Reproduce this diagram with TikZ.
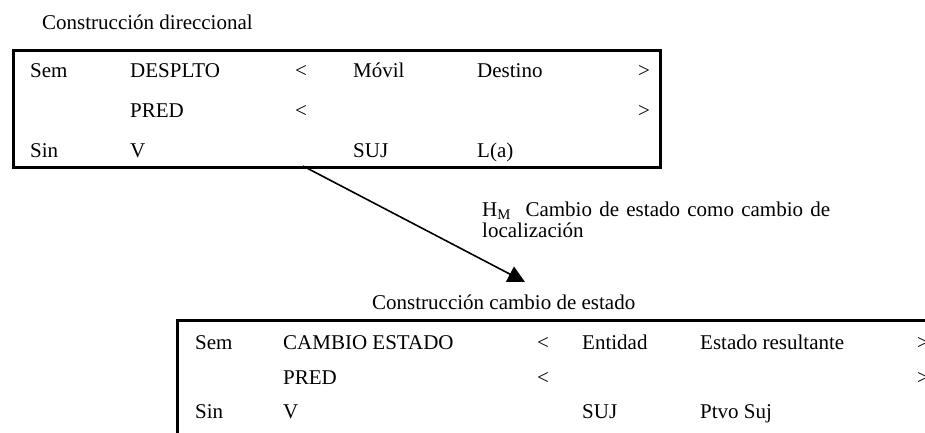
\documentclass[tikz,border=0pt]{standalone}
\usepackage{fontspec}
\setmainfont{Liberation Serif}
\usetikzlibrary{arrows.meta}
\begin{document}
\begin{tikzpicture}[x=1pt,y=-1pt,
  txt/.style={anchor=base west,inner sep=0pt,font=\fontsize{21}{21}\selectfont},
  frame/.style={draw,line width=2.6pt,inner sep=0pt,anchor=north west},
  conn/.style={line width=1.6pt,-{Triangle[length=17pt,width=17pt]}}]
\useasboundingbox (0,0) rectangle (925,432);
\clip (0,0) rectangle (925,432);
% top construction
\node[txt] (t1) at (42,29) {Construcción direccional};
\node[frame,minimum width=647pt,minimum height=117pt] (box1) at (12,49) {};
\node[txt] (a1) at (30,77) {Sem};
\node[txt] (a2) at (130,77) {DESPLTO};
\node[txt] (a3) at (295,77) {<};
\node[txt] (a4) at (353,77) {Móvil};
\node[txt] (a5) at (477,77) {Destino};
\node[txt] (a6) at (638,77) {>};
\node[txt] (b2) at (130,117) {PRED};
\node[txt] (b3) at (295,117) {<};
\node[txt] (b6) at (638,117) {>};
\node[txt] (c1) at (30,157) {Sin};
\node[txt] (c2) at (130,157) {V};
\node[txt] (c4) at (353,157) {SUJ};
\node[txt] (c5) at (477,157) {L(a)};
% connector
\coordinate (s) at (303,166);
\coordinate (e) at (525,282);
\draw[conn] (s) -- (e);
\node[txt,anchor=north west,text width=348pt,align=justify] (lab) at (482,202)
  {H\textsubscript{M}\ \ Cambio de estado como cambio de localización};
% bottom construction
\node[txt] (t2) at (372,309) {Construcción cambio de estado};
\node[frame,minimum width=780pt,minimum height=140pt] (box2) at (176,319) {};
\node[txt] (d1) at (195,349) {Sem};
\node[txt] (d2) at (283,349) {CAMBIO ESTADO};
\node[txt] (d3) at (537,349) {<};
\node[txt] (d4) at (582,349) {Entidad};
\node[txt] (d5) at (700,349) {Estado resultante};
\node[txt] (d6) at (917,349) {>};
\node[txt] (e2) at (283,384) {PRED};
\node[txt] (e3) at (537,384) {<};
\node[txt] (e6) at (917,384) {>};
\node[txt] (f1) at (195,418) {Sin};
\node[txt] (f2) at (283,418) {V};
\node[txt] (f4) at (582,418) {SUJ};
\node[txt] (f5) at (700,418) {Ptvo Suj};
\end{tikzpicture}
\end{document}
